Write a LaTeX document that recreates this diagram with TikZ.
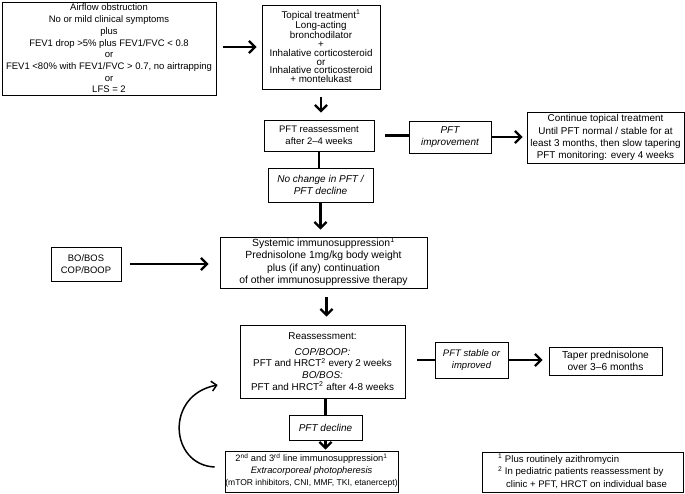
\documentclass[tikz,border=0pt]{standalone}
\usepackage{fontspec}
\setmainfont{Liberation Sans}
\usetikzlibrary{arrows.meta}
\newcommand{\fs}[2]{\fontsize{#1}{#2}\selectfont}
\newcommand{\sups}[1]{\smash{\textsuperscript{#1}}}
\begin{document}
\begin{tikzpicture}[x=1pt,y=-1pt,
  box/.style={draw, line width=0.7pt, align=center, inner sep=0pt},
  thk/.style={line width=2.4pt},
  arr/.style={line width=2.4pt, -{Straight Barb[length=6pt,width=12pt]}},
  curv/.style={line width=1.5pt, -{Straight Barb[length=5pt,width=10pt]}},
]
\useasboundingbox (0,0) rectangle (685,493);

\node[box, minimum width=214pt, minimum height=93pt, font=\fs{9.5}{11.7}] (air) at (109,48.5)
 {Airflow obstruction\\ No or mild clinical symptoms\\ plus\\ FEV1 drop >5\% plus FEV1/FVC < 0.8\\ or\\ FEV1 <80\% with FEV1/FVC > 0.7, no airtrapping\\ or\\ LFS = 2};

\node[box, minimum width=118pt, minimum height=84pt, font=\fs{9.8}{8.8}] (top) at (321,47)
 {Topical treatment\sups{1}\\ Long-acting\\ bronchodilator\\ +\\ Inhalative corticosteroid\\ or\\ Inhalative corticosteroid\\ + montelukast};

\node[box, minimum width=110pt, minimum height=31pt, font=\fs{9.5}{12}] (pftre) at (319,135.5)
 {PFT reassessment\\ after 2--4 weeks};

\node[box, minimum width=82pt, minimum height=32pt, font=\fs{10}{12.5}\itshape] (impr) at (450,137)
 {PFT\\ improvement};

\node[box, minimum width=157pt, minimum height=51pt, font=\fs{9.9}{11.8}] (cont) at (605.5,137.5)
 {Continue topical treatment\\[1.5pt] Until PFT normal / stable for at\\ least 3 months, then slow tapering\\ PFT monitoring: every 4 weeks};

\node[box, minimum width=105pt, minimum height=34pt, font=\fs{10}{12.5}\itshape] (noch) at (320.5,185)
 {No change in PFT /\\ PFT decline};

\node[box, minimum width=207pt, minimum height=51pt, font=\fs{10.4}{12.5}] (sys) at (323.5,262.5)
 {Systemic immunosuppression\sups{1}\\ Prednisolone 1mg/kg body weight\\ plus (if any) continuation\\ of other immunosuppressive therapy};

\node[box, minimum width=70pt, minimum height=34pt, font=\fs{9.4}{12.5}] (bo) at (86,264)
 {BO/BOS\\ COP/BOOP};

\node[box, minimum width=165pt, minimum height=73pt, font=\fs{9.9}{11.7}] (re) at (322.5,361.5)
 {Reassessment:\\[4pt] \textit{COP/BOOP:}\\ PFT and HRCT\sups{2} every 2 weeks\\ \textit{BO/BOS:}\\ PFT and HRCT\sups{2} after 4-8 weeks};

\node[box, minimum width=73pt, minimum height=36pt, font=\fs{9.5}{12.5}\itshape] (stab) at (471.5,360)
 {PFT stable or\\ improved};

\node[box, minimum width=113pt, minimum height=28pt, font=\fs{10.2}{12.5}] (taper) at (605.5,361)
 {Taper prednisolone\\ over 3--6 months};

\node[box, minimum width=73pt, minimum height=25pt, font=\fs{10}{12}\itshape] (decl) at (325.5,427.5)
 {PFT decline};

\node[box, minimum width=173pt, minimum height=41pt, font=\fs{8.5}{12}] (sec) at (311.5,471.5)
 {{\fs{9.3}{12}2\sups{nd} and 3\sups{rd} line immunosuppression\sups{1}}\\ {\fs{9.3}{12}\itshape Extracorporeal photopheresis}\\ (mTOR inhibitors, CNI, MMF, TKI, etanercept)};

\node[box, minimum width=201pt, minimum height=40pt, align=left, font=\fs{9.6}{12.5}] (foot) at (582.5,472)
 {\sups{1} Plus routinely azithromycin\\ \sups{2} In pediatric patients reassessment by\\ \hspace*{8pt}clinic + PFT, HRCT on individual base};

% connectors
\draw[arr, shorten <=7pt, shorten >=5pt] (top.west -| air.east) -- (top.west);
\draw[arr, shorten <=8pt, shorten >=7pt] (top.south) -- (top.south |- pftre.north);
\draw[thk, shorten <=11pt] (pftre.east) -- (pftre.east -| impr.west);
\draw[arr, shorten >=4pt] (impr.east) -- (impr.east -| cont.west);
\draw[thk] (pftre.south) -- (pftre.south |- noch.north);
\draw[arr, shorten >=7pt] (noch.south) -- (noch.south |- sys.north);
\draw[arr, shorten <=9pt, shorten >=11pt] (bo.east) -- (bo.east -| sys.west);
\draw[arr, shorten <=9pt, shorten >=8pt] ([xshift=3pt]sys.south) -- ([xshift=3pt]sys.south |- re.north);
\draw[thk, shorten <=12pt] (re.east |- stab.west) -- (stab.west);
\draw[arr, shorten >=6pt] (stab.east) -- (stab.east -| taper.west);
\draw[thk] (decl.north |- re.south) -- (decl.north);
\draw[arr, shorten >=1pt] (decl.south) -- (decl.south |- sec.north);
\draw[curv] ([xshift=-10pt,yshift=4.5pt]sec.west) .. controls +(-45,-2) and +(-53,10) .. ([xshift=-22pt,yshift=-23.5pt]re.west);
\end{tikzpicture}
\end{document}
